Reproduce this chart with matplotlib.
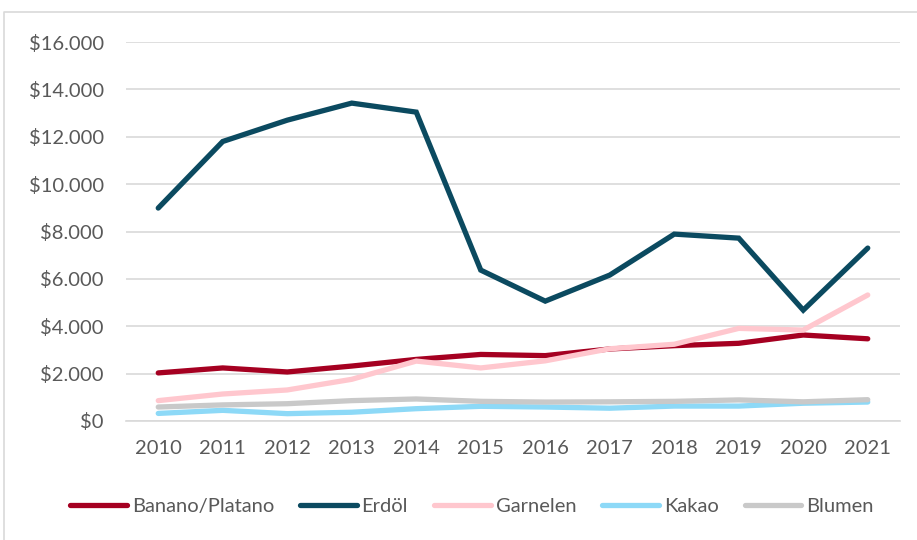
import matplotlib
matplotlib.use("Agg")
import matplotlib.pyplot as plt
from matplotlib.ticker import FuncFormatter
from matplotlib.lines import Line2D

plt.rcParams['font.family'] = ['Lato', 'DejaVu Sans']

years = ['2010', '2011', '2012', '2013', '2014', '2015',
         '2016', '2017', '2018', '2019', '2020', '2021']

banano = [2030, 2240, 2070, 2320, 2600, 2810, 2760, 3040, 3180, 3280, 3630, 3470]
erdoel = [8990, 11800, 12700, 13420, 13040, 6370, 5060, 6160, 7890, 7720, 4680, 7300]
garnelen = [860, 1140, 1310, 1760, 2530, 2240, 2540, 3050, 3240, 3910, 3840, 5320]
kakao = [320, 450, 310, 370, 520, 620, 590, 540, 630, 630, 750, 800]
blumen = [590, 680, 730, 860, 930, 830, 800, 810, 830, 890, 810, 900]

series = [
    ('Banano/Platano', banano, '#A50021'),
    ('Erdöl', erdoel, '#0B4A60'),
    ('Garnelen', garnelen, '#FFC7CE'),
    ('Kakao', kakao, '#8DD9F7'),
    ('Blumen', blumen, '#C9C9C9'),
]

txt = '#595959'
grid = '#D9D9D9'

fig = plt.figure(figsize=(9.17, 5.4), dpi=100)
ax = fig.add_axes([126/917, 1 - 421/540, (900 - 126)/917, (421 - 42)/540])

x = list(range(len(years)))
handles = []
for name, vals, col in series:
    h, = ax.plot(x, vals, color=col, lw=3.8, label=name,
                 solid_capstyle='round', solid_joinstyle='miter')
    handles.append(h)

ax.set_xlim(-0.5, len(years) - 0.5)
ax.set_ylim(0, 16000)
ax.set_yticks(range(0, 16001, 2000))
ax.yaxis.set_major_formatter(FuncFormatter(lambda v, p: '$' + f'{v:,.0f}'.replace(',', '.')))
ax.set_xticks(x)
ax.set_xticklabels(years)

ax.grid(axis='y', color=grid, lw=1.2)
ax.set_axisbelow(True)
for s in ['top', 'right', 'left']:
    ax.spines[s].set_visible(False)
ax.spines['bottom'].set_color(grid)
ax.spines['bottom'].set_linewidth(1.2)
ax.tick_params(axis='both', length=0, labelsize=14.5, colors=txt)
ax.tick_params(axis='y', pad=16)
ax.tick_params(axis='x', pad=14)

leg = fig.legend(handles=handles, loc='center', bbox_to_anchor=(472/917, 1 - 506/540),
                 ncol=5, frameon=False, fontsize=14.5, handlelength=2.8,
                 handletextpad=0.25, columnspacing=1.3, labelcolor=txt)

# chart frame (only top and left visible in the crop)
fig.add_artist(Line2D([4/917, 4/917, 1], [0, 1 - 12/540, 1 - 12/540],
                      transform=fig.transFigure, color=grid, lw=1.2))

fig.savefig('out.png', dpi=100)
